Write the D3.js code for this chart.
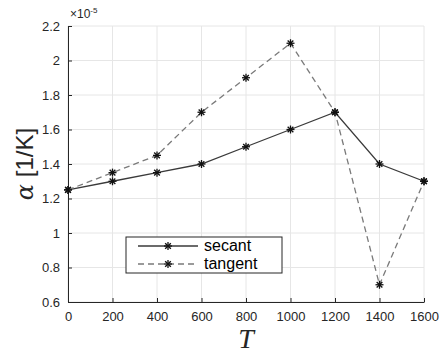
<!DOCTYPE html>
<html>
<head>
<meta charset="utf-8">
<script src="https://d3js.org/d3.v7.min.js"></script>
<style>
body { margin: 0; background: #fff; }
svg text { font-family: "Liberation Sans", Arial, sans-serif; }
</style>
</head>
<body>
<div id="chart"></div>
<script>
// data (values in units of 1e-5)
var temps = [0, 200, 400, 600, 800, 1000, 1200, 1400, 1600];
var secant = [1.25, 1.3, 1.35, 1.4, 1.5, 1.6, 1.7, 1.4, 1.3];
var tangent = [1.25, 1.35, 1.45, 1.7, 1.9, 2.1, 1.7, 0.7, 1.3];
var xTicks = [0, 200, 400, 600, 800, 1000, 1200, 1400, 1600];
var yTicks = [0.6, 0.8, 1, 1.2, 1.4, 1.6, 1.8, 2, 2.2];

var W = 440, H = 359;
var margin = {left: 68, right: 16, top: 26, bottom: 57};
var width = W - margin.left - margin.right;
var height = H - margin.top - margin.bottom;

var svg = d3.select("#chart").append("svg")
    .attr("width", W).attr("height", H);
var chart = svg.append("g")
    .attr("transform", "translate(" + margin.left + "," + margin.top + ")");

var x = d3.scaleLinear().domain([0, 1600]).range([0, width]);
var y = d3.scaleLinear().domain([0.6, 2.2]).range([height, 0]);

// grid
chart.append("g").selectAll("line.gx")
    .data(xTicks).enter().append("line")
    .attr("x1", d => x(d)).attr("x2", d => x(d))
    .attr("y1", 0).attr("y2", height)
    .attr("stroke", "#e6e6e6").attr("stroke-width", 1);
chart.append("g").selectAll("line.gy")
    .data(yTicks).enter().append("line")
    .attr("x1", 0).attr("x2", width)
    .attr("y1", d => y(d)).attr("y2", d => y(d))
    .attr("stroke", "#e6e6e6").attr("stroke-width", 1);

// axes
var xAxis = d3.axisBottom(x).tickValues(xTicks).tickSize(-4).tickSizeOuter(0).tickPadding(10)
    .tickFormat(d3.format("d"));
var yAxis = d3.axisLeft(y).tickValues(yTicks).tickSize(-4).tickSizeOuter(0).tickPadding(8)
    .tickFormat(d3.format("~g"));

var gx = chart.append("g").attr("transform", "translate(0," + height + ")").call(xAxis);
var gy = chart.append("g").call(yAxis);
[gx, gy].forEach(function(g) {
    g.select(".domain").attr("stroke", "#262626");
    g.selectAll(".tick line").attr("stroke", "#262626");
    g.selectAll(".tick text").attr("fill", "#262626").style("font-size", "13px")
        .style("font-family", "Liberation Sans, Arial, sans-serif");
});

// exponent label
var expo = svg.append("text").attr("x", margin.left + 2).attr("y", margin.top - 8)
    .attr("fill", "#262626").style("font-size", "12px");
expo.append("tspan").text("\u00d710");
expo.append("tspan").attr("dy", -5).style("font-size", "8px").text("-5");

// lines
var line = d3.line().x(d => x(d[0])).y(d => y(d[1]));
var series = [
    {name: "secant", vals: secant, color: "#3a3a3a", dash: null},
    {name: "tangent", vals: tangent, color: "#7a7a7a", dash: "6,4"}
];

function star(g, cx, cy, r) {
    for (var k = 0; k < 4; k++) {
        var a = k * Math.PI / 4;
        g.append("line")
            .attr("x1", cx - r * Math.cos(a)).attr("y1", cy - r * Math.sin(a))
            .attr("x2", cx + r * Math.cos(a)).attr("y2", cy + r * Math.sin(a))
            .attr("stroke", "#111").attr("stroke-width", 1.3);
    }
}

series.forEach(function(s) {
    var pts = temps.map((t, i) => [t, s.vals[i]]);
    chart.append("path").datum(pts)
        .attr("d", line).attr("fill", "none")
        .attr("stroke", s.color).attr("stroke-width", 1.3)
        .attr("stroke-dasharray", s.dash);
    var mg = chart.append("g");
    pts.forEach(p => star(mg, x(p[0]), y(p[1]), 4));
});

// legend
var lg = svg.append("g").attr("transform", "translate(126,237)");
lg.append("rect").attr("width", 156).attr("height", 36)
    .attr("fill", "#fff").attr("stroke", "#262626").attr("stroke-width", 1);
series.forEach(function(s, i) {
    var yy = 9 + i * 18;
    lg.append("line").attr("x1", 12).attr("x2", 72).attr("y1", yy).attr("y2", yy)
        .attr("stroke", s.color).attr("stroke-width", 1.3).attr("stroke-dasharray", s.dash);
    star(lg, 42, yy, 4);
    lg.append("text").attr("x", 78).attr("y", yy + 5)
        .attr("fill", "#000").style("font-size", "16px").text(s.name);
});

// axis labels
svg.append("text")
    .attr("transform", "translate(33," + (margin.top + height / 2) + ") rotate(-90)")
    .attr("text-anchor", "middle")
    .style("font-size", "24px").attr("fill", "#262626")
    .html('<tspan style="font-family:\'DejaVu Serif\',serif;font-style:italic">\u03b1</tspan><tspan> [1/K]</tspan>');

svg.append("text")
    .attr("x", margin.left + width / 2).attr("y", 348)
    .attr("text-anchor", "middle")
    .style("font-family", "'Liberation Serif', 'DejaVu Serif', serif")
    .style("font-style", "italic").style("font-size", "28px").attr("fill", "#262626")
    .text("T");
</script>
</body>
</html>
